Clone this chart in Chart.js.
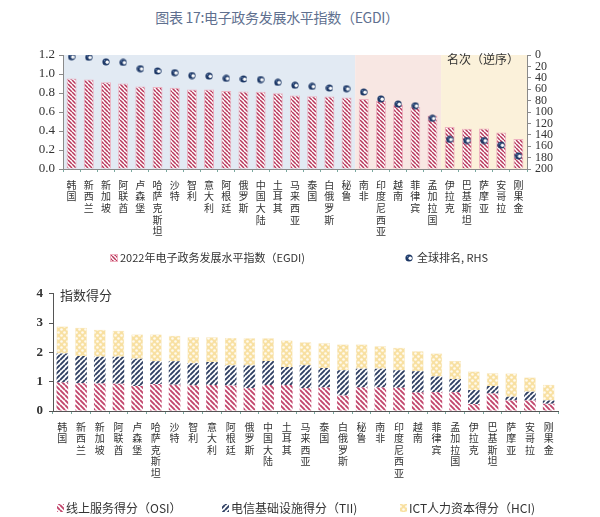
<!DOCTYPE html>
<html><head><meta charset="utf-8">
<script src="https://cdn.jsdelivr.net/npm/chart.js@4.4.0/dist/chart.umd.min.js"></script>
<style>
html,body{margin:0;padding:0;background:#fff;width:600px;height:517px;overflow:hidden;position:relative;}
#title{position:absolute;left:0;width:554px;top:7px;text-align:center;font:14px "Noto Sans CJK SC";color:#60708f;letter-spacing:-0.3px;}
#c1{position:absolute;left:0;top:40px;}
#c2{position:absolute;left:0;top:280px;}
</style></head><body>
<div id="title">图表 17:电子政务发展水平指数（EGDI）</div>
<canvas id="c1" width="600" height="235"></canvas>
<canvas id="c2" width="600" height="237"></canvas>
<script>
// ---------- data ----------
const countries = ['韩国','新西兰','新加坡','阿联酋','卢森堡','哈萨克斯坦','沙特','智利','意大利','阿根廷','俄罗斯','中国大陆','土耳其','马来西亚','泰国','白俄罗斯','秘鲁','南非','印度尼西亚','越南','菲律宾','孟加拉国','伊拉克','巴基斯坦','萨摩亚','安哥拉','刚果金'];
const egdi = [0.953,0.943,0.913,0.901,0.868,0.863,0.854,0.838,0.838,0.820,0.816,0.812,0.798,0.774,0.766,0.762,0.752,0.736,0.716,0.679,0.652,0.563,0.442,0.425,0.426,0.384,0.316];
const rank = [3,4,12,13,24,28,31,36,37,41,42,43,48,53,55,58,59,65,77,86,89,111,148,150,150,158,177];
const osi = [0.97,0.95,0.94,0.93,0.85,0.92,0.90,0.88,0.89,0.87,0.78,0.89,0.89,0.78,0.80,0.53,0.80,0.80,0.79,0.63,0.64,0.64,0.24,0.60,0.36,0.36,0.25];
const tii = [0.99,0.93,0.91,0.92,0.93,0.78,0.80,0.75,0.78,0.68,0.77,0.82,0.61,0.78,0.67,0.86,0.64,0.64,0.60,0.73,0.54,0.45,0.48,0.25,0.13,0.30,0.11];
const hci = [0.92,0.96,0.92,0.89,0.83,0.91,0.87,0.89,0.85,0.94,0.93,0.77,0.91,0.79,0.84,0.88,0.83,0.77,0.77,0.68,0.78,0.62,0.63,0.44,0.79,0.48,0.54];
const bandLastIndex = [16, 21, 26];   // last category index of each shaded group
const seriesNames = ['2022年电子政务发展水平指数（EGDI)','全球排名, RHS'];
const compNames = ['线上服务得分（OSI）','电信基础设施得分（TII)','ICT人力资本得分（HCI)'];

// ---------- patterns ----------
const pctx = document.createElement('canvas').getContext('2d');
function stripe(color, bg, size, lw, dir){
  const c=document.createElement('canvas'); c.width=c.height=size;
  const g=c.getContext('2d');
  if(bg){g.fillStyle=bg; g.fillRect(0,0,size,size);}
  g.strokeStyle=color; g.lineWidth=lw; g.beginPath();
  for(let k=-1;k<=2;k++){
    if(dir==='\\'){ g.moveTo(0,k*size); g.lineTo(size,k*size+size); }
    else { g.moveTo(0,k*size); g.lineTo(size,k*size-size); }
  }
  g.stroke();
  return pctx.createPattern(c,'repeat');
}
function dots(){
  const s=6, c=document.createElement('canvas'); c.width=c.height=s;
  const g=c.getContext('2d');
  g.fillStyle='#f8e0a2'; g.fillRect(0,0,s,s);
  g.fillStyle='#fffaf0';
  [[1.5,1.5],[4.5,4.5]].forEach(p=>{g.beginPath();g.arc(p[0],p[1],1.3,0,Math.PI*2);g.fill();});
  return pctx.createPattern(c,'repeat');
}
const patEgdi = stripe('#b8385c','#ffffff',4,1.5,'\\');
const patOsi = stripe('#c2466c','#ffffff',5,1.9,'\\');
const patTii = stripe('#2f3f62','#ffffff',5,1.9,'/');
const patHci = dots();

const marker = (()=>{const c=document.createElement('canvas');c.width=c.height=8;const g=c.getContext('2d');
  g.fillStyle='#1d3866';g.beginPath();g.arc(4,4,3.6,0,Math.PI*2);g.fill();
  g.fillStyle='#ffffff';g.beginPath();g.arc(5.2,4.2,1.7,0,Math.PI*2);g.fill();
  g.fillStyle='#5a7aa8';g.beginPath();g.arc(2.5,2.6,0.8,0,Math.PI*2);g.fill();
  return c;})();

const CJK='"Noto Sans CJK SC"';
const SERIF='"Liberation Serif"';
const vertLabels = countries.map(s=>s.split(''));

// ---------- chart 1 ----------
const bandColors=['#e2eaf3','#f8e7e3','#fbf1da'];
const bandPlugin={id:'bands',beforeDraw(chart){
  const {ctx,chartArea:a,scales:{x}}=chart; let start=0; const n=countries.length;
  ctx.save();
  bandLastIndex.forEach((end,k)=>{
    const x0 = start===0? a.left : (x.getPixelForValue(start-1)+x.getPixelForValue(start))/2;
    const x1 = end===n-1? a.right : (x.getPixelForValue(end)+x.getPixelForValue(end+1))/2;
    ctx.fillStyle=bandColors[k]; ctx.fillRect(x0,a.top,x1-x0,a.bottom-a.top); start=end+1;
  });
  ctx.restore();
}};
const legend1={id:'leg1',afterDraw(chart){
  const ctx=chart.ctx; ctx.save();
  const y=218;
  ctx.fillStyle=patEgdi; ctx.fillRect(110,y-4,7,7);
  ctx.strokeStyle='#f0b0c0'; ctx.lineWidth=1; ctx.strokeRect(110.5,y-3.5,7,7);
  ctx.font='11px '+CJK; ctx.fillStyle='#333'; ctx.textBaseline='middle';
  ctx.fillText(seriesNames[0],120,y);
  ctx.drawImage(marker,405,y-4);
  ctx.fillText(seriesNames[1],417,y);
  // right-axis caption
  ctx.font='12px '+CJK; ctx.textAlign='right'; ctx.fillStyle='#333';
  ctx.fillText('名次（逆序）',519,19);
  ctx.restore();
}};
new Chart(document.getElementById('c1'),{
  type:'bar',
  data:{labels:vertLabels,datasets:[
    {label:seriesNames[0],data:egdi,backgroundColor:patEgdi,borderColor:'#eeb0bf',borderWidth:1,barPercentage:0.58,categoryPercentage:1,yAxisID:'y',order:2},
    {type:'line',label:seriesNames[1],data:rank,yAxisID:'y2',showLine:false,pointStyle:marker,pointRadius:4,order:1}
  ]},
  options:{responsive:false,animation:false,devicePixelRatio:1,
    layout:{padding:{top:15,left:0,right:0,bottom:0}},
    plugins:{legend:{display:false},tooltip:{enabled:false}},
    scales:{
      x:{offset:true,grid:{display:true,drawOnChartArea:false,tickLength:3,color:'#7aa9a0',offset:true},border:{color:'#8a8a8a'},
         ticks:{font:{family:CJK,size:10,lineHeight:1.17},color:'#333',padding:7,maxRotation:0,minRotation:0,autoSkip:false},
         afterFit(s){s.height=106;}},
      y:{min:0,max:1.2,grid:{drawOnChartArea:false,tickLength:4,color:'#8a8a8a'},border:{color:'#8a8a8a'},
         ticks:{stepSize:0.2,autoSkip:false,callback:v=>Number(v).toFixed(1),font:{family:SERIF,size:13},color:'#333',padding:4},
         afterFit(s){s.width=63;}},
      y2:{position:'right',reverse:true,min:0,max:200,grid:{drawOnChartArea:false,tickLength:4,color:'#8a8a8a'},border:{color:'#8a8a8a'},
         ticks:{stepSize:20,autoSkip:false,font:{family:SERIF,size:12,lineHeight:1},color:'#333',padding:4},
         afterFit(s){s.width=73;}}
    }},
  plugins:[bandPlugin,legend1]
});

// ---------- chart 2 ----------
const legend2={id:'leg2',afterDraw(chart){
  const ctx=chart.ctx; ctx.save();
  const y=228; const items=[[patOsi,57],[patTii,222],[patHci,400]];
  ctx.font='12px '+CJK; ctx.fillStyle='#333'; ctx.textBaseline='middle';
  items.forEach((it,i)=>{
    ctx.fillStyle=it[0]; ctx.fillRect(it[1],y-4,7,8);
    ctx.fillStyle='#333'; ctx.fillText(compNames[i],it[1]+9,y);
  });
  ctx.font='13px '+CJK; ctx.fillText('指数得分',60,15);
  ctx.restore();
}};
new Chart(document.getElementById('c2'),{
  type:'bar',
  data:{labels:vertLabels,datasets:[
    {label:compNames[0],data:osi,backgroundColor:patOsi,barPercentage:0.62,categoryPercentage:1},
    {label:compNames[1],data:tii,backgroundColor:patTii,barPercentage:0.62,categoryPercentage:1},
    {label:compNames[2],data:hci,backgroundColor:patHci,borderColor:'#f3dca0',borderWidth:0.5,barPercentage:0.62,categoryPercentage:1}
  ]},
  options:{responsive:false,animation:false,devicePixelRatio:1,
    layout:{padding:{top:12,left:0,right:42,bottom:0}},
    plugins:{legend:{display:false},tooltip:{enabled:false}},
    scales:{
      x:{stacked:true,offset:true,grid:{display:true,drawOnChartArea:false,tickLength:3,color:'#7aa9a0',offset:true},border:{color:'#555'},
         ticks:{font:{family:CJK,size:10,lineHeight:1.15},color:'#333',padding:7,maxRotation:0,minRotation:0,autoSkip:false},
         afterFit(s){s.height=106;}},
      y:{stacked:true,min:0,max:4,grid:{drawOnChartArea:false,tickLength:4,color:'#555'},border:{color:'#555'},
         ticks:{stepSize:1,font:{family:SERIF,size:13,weight:'bold'},color:'#333',padding:6},
         afterFit(s){s.width=53;}}
    }},
  plugins:[legend2]
});
</script>
</body></html>
